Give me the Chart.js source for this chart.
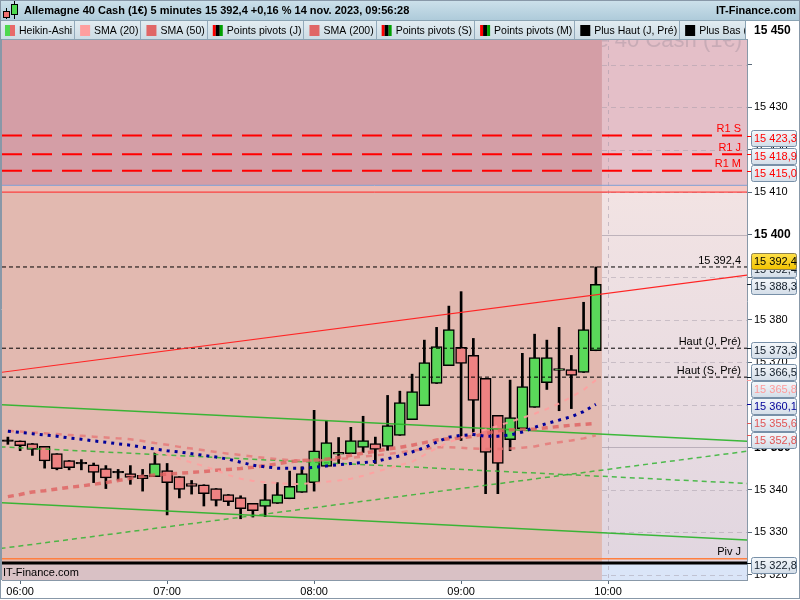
<!DOCTYPE html>
<html>
<head>
<meta charset="utf-8">
<script src="https://cdn.jsdelivr.net/npm/chart.js@4.4.0/dist/chart.umd.min.js"></script>
<style>
  html, body { margin: 0; padding: 0; background: #fff; }
  #wrap { width: 800px; height: 600px; }
</style>
</head>
<body>
<div id="wrap"><canvas id="chart" width="800" height="600"></canvas></div>
<script>
// candle times (5 minutes)
const times = ['05:55','06:00','06:05','06:10','06:15','06:20','06:25','06:30','06:35','06:40','06:45','06:50','06:55',
  '07:00','07:05','07:10','07:15','07:20','07:25','07:30','07:35','07:40','07:45','07:50','07:55',
  '08:00','08:05','08:10','08:15','08:20','08:25','08:30','08:35','08:40','08:45','08:50','08:55',
  '09:00','09:05','09:10','09:15','09:20','09:25','09:30','09:35','09:40','09:45','09:50','09:55'];

// Heikin-Ashi candles
const haOpen = [15351.4,15351.5,15350.9,15350.2,15348.5,15346.9,15346.1,15345.9,15345.0,15344.0,15343.8,15343.4,15343.1,
  15344.5,15343.1,15341.5,15341.2,15340.3,15338.9,15338.2,15336.8,15336.1,15336.8,15337.9,15339.4,
  15341.7,15345.5,15348.4,15348.5,15350.0,15350.9,15350.2,15352.8,15356.5,15359.8,15365.0,15369.2,
  15373.5,15371.6,15366.2,15357.5,15351.8,15354.4,15359.4,15365.2,15368.1,15368.3,15367.6,15372.7];
const haHigh = [15352.4,15351.5,15350.9,15350.2,15348.5,15346.9,15347.1,15346.3,15345.7,15344.8,15345.7,15344.8,15348.7,
  15346.2,15343.1,15342.2,15341.2,15340.3,15338.9,15338.6,15336.8,15341.3,15341.7,15344.4,15345.4,
  15358.7,15356.2,15352.3,15354.7,15357.3,15352.4,15362.2,15363.2,15367.2,15375.2,15378.2,15383.2,
  15386.6,15375.6,15366.2,15357.5,15365.8,15372.1,15376.6,15375.2,15378.2,15371.6,15384.1,15392.4];
const haLow = [15350.7,15349.2,15348.1,15345.1,15344.7,15344.7,15344.7,15341.7,15340.3,15342.3,15341.3,15339.7,15343.1,
  15334.1,15338.1,15339.0,15336.2,15336.2,15336.3,15333.2,15333.6,15333.7,15336.8,15337.9,15339.4,
  15339.7,15345.5,15346.2,15348.5,15348.8,15346.2,15349.3,15352.8,15356.5,15359.8,15365.0,15369.2,
  15351.6,15352.8,15339.1,15339.1,15349.2,15354.4,15359.4,15363.6,15358.6,15359.1,15367.6,15372.7];
const haClose = [15351.4,15350.4,15349.5,15346.8,15345.0,15345.2,15346.1,15344.1,15342.8,15344.0,15342.9,15342.6,15346.2,
  15341.7,15340.1,15340.8,15339.1,15337.5,15337.2,15335.6,15335.1,15337.7,15338.9,15340.8,15343.8,
  15349.2,15351.1,15348.8,15351.6,15351.6,15349.5,15355.1,15360.5,15363.1,15369.9,15373.7,15377.7,
  15369.7,15361.0,15348.8,15346.2,15357.0,15364.3,15371.1,15371.1,15368.5,15366.9,15377.7,15388.3];

// moving averages
const sma20 = [null,null,null,null,null,null,null,null,null,null,null,null,
  15348.9,15348.3,15347.3,15346.4,15345.6,15344.6,15343.5,15342.6,15342.1,15341.8,15341.6,15341.4,15341.4,
  15341.6,15341.9,15342.2,15342.6,15343.3,15344.2,15345.0,15345.8,15346.6,15348.2,15349.8,15351.2,
  15352.3,15353.3,15354.2,15355.0,15356.0,15356.9,15357.9,15359.0,15360.3,15361.8,15363.5,15365.8];
const sma50 = [15338.4,15338.9,15339.5,15339.8,15340.2,15340.6,15340.9,15341.3,15341.7,15342.2,15342.7,15343.2,15343.5,
  15343.7,15343.9,15344.1,15344.3,15344.6,15344.8,15345.0,15345.3,15345.7,15346.1,15346.6,15346.9,
  15347.0,15347.2,15347.6,15348.1,15348.6,15349.1,15349.6,15350.0,15350.5,15351.1,15351.7,15352.0,
  15352.2,15352.6,15353.2,15353.9,15354.1,15354.2,15354.3,15354.6,15354.9,15355.2,15355.4,15355.6];
const sma200 = [15353.9,15353.7,15353.5,15353.3,15353.1,15352.9,15352.7,15352.5,15352.3,15352.1,15351.9,15351.5,15351.0,
  15350.6,15350.1,15349.7,15349.3,15348.9,15348.5,15348.2,15347.8,15347.5,15347.2,15347.0,15346.9,
  15346.9,15347.0,15347.2,15347.5,15347.8,15348.1,15348.4,15348.8,15349.2,15349.6,15350.0,15350.0,
  15349.9,15349.7,15349.6,15349.6,15349.7,15349.9,15350.2,15350.8,15351.2,15351.6,15352.1,15352.8];
const blueMa = [15353.8,15353.5,15353.2,15352.9,15352.6,15352.2,15351.9,15351.5,15351.2,15350.8,15350.5,15350.0,15349.6,
  15349.2,15348.9,15348.5,15348.1,15347.7,15347.2,15346.5,15345.8,15345.4,15345.1,15345.1,15345.1,
  15345.3,15345.6,15345.9,15346.2,15346.4,15346.7,15347.3,15348.0,15348.9,15349.9,15351.2,15352.4,
  15352.8,15353.0,15352.6,15352.6,15352.9,15353.6,15354.7,15355.6,15356.4,15357.2,15358.4,15360.1];

// trend lines (start, end)
const trendTimes = ['05:52', '10:57'];
const trendRed = [15367.6, 15390.5];
const trendGreenHigh = [15360.0, 15351.4];
const trendGreenLow = [15337.0, 15328.2];
const trendGreenDashUp = [15326.2, 15349.1];
const trendGreenDashDown = [15350.1, 15341.5];

// horizontal levels
const pivotNames = ['R1 S', 'R1 J', 'R1 M'];
const pivotValues = [15423.3, 15418.9, 15415.0];
const lastPrice = 15392.4;
const highNames = ['Haut (J, Pré)', 'Haut (S, Pré)'];
const highValues = [15373.3, 15366.5];
const pivJ = 15323.8;
const lowDay = 15322.8;
const zoneEdge = 15411.6;
const redLevel = 15410.0;

// axes
const yTicks = [15320,15330,15340,15350,15360,15370,15380,15390,15400,15410,15420,15430,15440,15450];
const yHiddenLabels = [15440];
const xTickLabels = ['06:00', '07:00', '08:00', '09:00', '10:00'];

// right axis value tags
const tagValues = [15423.3, 15418.9, 15415.0, 15388.3, 15373.3, 15366.5, 15365.8, 15360.1, 15355.6, 15352.8, 15322.8];
const tagColors = ['#ff0000','#ff0000','#ff0000','#111c28','#111c28','#111c28','#ff9a9a','#000099','#e05555','#e05555','#111c28'];

const legendItems = ['Heikin-Ashi', 'SMA (20)', 'SMA (50)', 'Points pivots (J)', 'SMA (200)',
  'Points pivots (S)', 'Points pivots (M)', 'Plus Haut (J, Pré)', 'Plus Bas (J, Pré)'];
const legendIcons = ['ha', '#ff9f9f', '#e06666', 'piv', '#e06666', 'piv', 'piv', '#000', '#000'];
const title = 'Allemagne 40 Cash (1€) 5 minutes 15 392,4 +0,16 % 14 nov. 2023, 09:56:28';

const FONT = "'Liberation Sans', Arial, sans-serif";
Chart.defaults.font.family = FONT;
Chart.defaults.font.size = 11;

const toMin = t => { const p = t.split(':').map(Number); return p[0] * 60 + p[1]; };
const fmtTime = m => String(Math.floor(m / 60)).padStart(2, '0') + ':' + String(Math.round(m % 60)).padStart(2, '0');
const fmtNum = (v, d) => {
  const s = v.toFixed(d).split('.');
  const int = s[0].replace(/\B(?=(\d{3})+(?!\d))/g, ' ');
  return d ? int + ',' + s[1] : int;
};

const X_MIN = 352.6, X_MAX = 656.7;
const candleX = times.map(toMin);
const FUTURE_START = candleX[candleX.length - 1] + 2.5;

const bodyColors = haOpen.map((o, i) => haClose[i] > o ? '#5ad85a' : (haClose[i] < o ? '#ee8282' : '#000'));

const series = vals => vals.map((v, i) => ({ x: candleX[i], y: v }));
const trend = vals => vals.map((v, i) => ({ x: toMin(trendTimes[i]), y: v }));
const level = v => [{ x: X_MIN, y: v }, { x: X_MAX, y: v }];
const line = (data, color, width, dash, order) => ({
  type: 'line', data, borderColor: color, borderWidth: width, borderDash: dash || [],
  borderCapStyle: 'butt', pointRadius: 0, tension: 0, order
});

const datasets = [
  { type: 'bar', data: candleX.map((x, i) => ({ x, y: [haLow[i], haHigh[i]] })),
    backgroundColor: '#000', borderWidth: 0, barThickness: 2, grouped: false, order: 30 },
  { type: 'bar', data: candleX.map((x, i) => ({ x, y: [haOpen[i], haClose[i]] })),
    backgroundColor: bodyColors, borderColor: '#000', borderWidth: 1.5, borderSkipped: false,
    barThickness: 11, minBarLength: 1.5, grouped: false, order: 29 },
  line(level(zoneEdge), '#7f9dd2', 1, null, 12),
  line(level(redLevel), '#ff2020', 1, null, 12),
  ...pivotValues.map(v => line(level(v), '#ff0000', 2, [20, 10], 11)),
  line(level(lastPrice), '#000', 1, [4, 3], 11),
  ...highValues.map(v => line(level(v), '#000', 1, [4, 3], 11)),
  line(level(pivJ), '#ff7f3f', 1.5, null, 11),
  line(level(lowDay), '#000', 3, null, 11),
  line(trend(trendRed), '#ff2424', 1.2, null, 8),
  line(trend(trendGreenHigh), 'rgba(40,180,40,0.9)', 1.5, null, 8),
  line(trend(trendGreenLow), 'rgba(40,180,40,0.9)', 1.5, null, 8),
  line(trend(trendGreenDashUp), 'rgba(50,180,50,0.85)', 1.5, [5, 4], 8),
  line(trend(trendGreenDashDown), 'rgba(50,180,50,0.85)', 1.5, [5, 4], 8),
  line(series(sma50), 'rgba(224,96,96,0.8)', 3.5, [6, 5], 5),
  line(series(sma200), 'rgba(230,115,115,0.75)', 2.5, [6, 6], 4),
  line(series(sma20), 'rgba(255,160,160,0.9)', 2, [5, 6], 3),
  line(series(blueMa), '#000099', 3, [3, 5], 2)
];

const bgPlugin = {
  id: 'bg',
  beforeDraw(chart) {
    const { ctx, chartArea: a, scales: { x, y } } = chart;
    const fx = x.getPixelForValue(FUTURE_START);
    const yEdge = y.getPixelForValue(zoneEdge);
    const yRed = y.getPixelForValue(redLevel);
    const yLow = y.getPixelForValue(lowDay);
    ctx.save();
    ctx.fillStyle = '#fff';
    ctx.fillRect(0, 0, chart.width, chart.height);
    const fill = (c, x0, y0, x1, y1) => { ctx.fillStyle = c; ctx.fillRect(x0, y0, x1 - x0, y1 - y0); };
    fill('#d49ea6', a.left, a.top, fx, yEdge);
    fill('#e4bfc8', fx, a.top, a.right, yEdge);
    fill('#ecbcb4', a.left, yEdge, fx, yRed);
    fill('#f5c9c4', fx, yEdge, a.right, yRed);
    fill('#e2b9b0', a.left, yRed, fx, yLow);
    const g = ctx.createLinearGradient(0, yRed, 0, yLow);
    g.addColorStop(0, '#f2e3e3');
    g.addColorStop(1, '#e1d6e0');
    fill(g, fx, yRed, a.right, yLow);
    fill('#d9c1c5', a.left, yLow, fx, a.bottom);
    fill('#dae5f8', fx, yLow, a.right, a.bottom);

    // watermark, only visible in the empty zone
    ctx.beginPath();
    ctx.rect(fx, a.top, a.right - fx, a.bottom - a.top);
    ctx.clip();
    ctx.font = '22px ' + FONT;
    ctx.fillStyle = 'rgba(150,135,150,0.35)';
    ctx.textAlign = 'right';
    ctx.textBaseline = 'alphabetic';
    ctx.fillText('Allemagne 40 Cash (1€)', a.right - 5, 47);

    // grid in the empty zone
    ctx.lineWidth = 1;
    yTicks.forEach(v => {
      const py = Math.round(y.getPixelForValue(v)) + 0.5;
      ctx.setLineDash(v % 50 === 0 ? [] : [5, 4]);
      ctx.strokeStyle = v % 50 === 0 ? 'rgba(150,140,155,0.55)' : 'rgba(160,150,165,0.45)';
      ctx.beginPath(); ctx.moveTo(fx, py); ctx.lineTo(a.right, py); ctx.stroke();
    });
    xTickLabels.forEach(t => {
      const px = Math.round(x.getPixelForValue(toMin(t))) + 0.5;
      if (px < fx) return;
      ctx.setLineDash([4, 4]);
      ctx.strokeStyle = 'rgba(160,150,165,0.5)';
      ctx.beginPath(); ctx.moveTo(px, a.top); ctx.lineTo(px, a.bottom); ctx.stroke();
    });
    ctx.restore();
  },
  afterDatasetsDraw(chart) {
    const { ctx, chartArea: a, scales: { y } } = chart;
    ctx.save();
    ctx.font = '11px ' + FONT;
    ctx.textAlign = 'right';
    ctx.textBaseline = 'bottom';
    const label = (txt, v, c) => { ctx.fillStyle = c; ctx.fillText(txt, a.right - 6, y.getPixelForValue(v) - 1); };
    pivotNames.forEach((n, i) => label(n, pivotValues[i], '#ff0000'));
    label(fmtNum(lastPrice, 1), lastPrice, '#000');
    highNames.forEach((n, i) => label(n, highValues[i], '#000'));
    label('Piv J', pivJ, '#000');
    ctx.textAlign = 'left';
    ctx.textBaseline = 'middle';
    ctx.fillStyle = '#000';
    ctx.fillText('IT-Finance.com', a.left + 1, a.bottom - 7);
    ctx.restore();
  }
};

function drawTag(ctx, cy, text, color, yellow) {
  const x0 = 751.5, w = 45, h = 16;
  const top = Math.round(cy - h / 2) + 0.5;
  const g = ctx.createLinearGradient(0, top, 0, top + h);
  if (yellow) { g.addColorStop(0, '#ffe14a'); g.addColorStop(1, '#f2c200'); }
  else { g.addColorStop(0, '#f5f8fb'); g.addColorStop(1, '#d3dde8'); }
  ctx.fillStyle = g;
  ctx.strokeStyle = yellow ? '#8c8050' : '#7890a8';
  ctx.lineWidth = 1;
  ctx.beginPath();
  ctx.roundRect(x0, top, w, h, 2);
  ctx.fill();
  ctx.stroke();
  ctx.fillStyle = color;
  ctx.font = '11px ' + FONT;
  ctx.textAlign = 'left';
  ctx.textBaseline = 'middle';
  ctx.fillText(text, x0 + 2.5, top + h / 2 + 0.5);
}

const overlayPlugin = {
  id: 'overlay',
  afterDraw(chart) {
    const { ctx, chartArea: a, scales: { y } } = chart;
    ctx.save();

    // title bar
    let g = ctx.createLinearGradient(0, 0, 0, 20);
    g.addColorStop(0, '#cde1eb');
    g.addColorStop(1, '#aecbda');
    ctx.fillStyle = g;
    ctx.fillRect(0, 0, 800, 20);
    ctx.fillStyle = '#8aa3b3';
    ctx.fillRect(0, 20, 800, 1);
    // icon
    ctx.fillStyle = '#000';
    ctx.fillRect(6, 8, 1, 11); ctx.fillRect(14, 1, 1, 18);
    ctx.fillStyle = '#ee7070'; ctx.fillRect(3.5, 11.5, 6, 6); ctx.strokeStyle = '#000'; ctx.strokeRect(3.5, 11.5, 6, 6);
    ctx.fillStyle = '#4ed84e'; ctx.fillRect(11.5, 4.5, 6, 10); ctx.strokeRect(11.5, 4.5, 6, 10);
    ctx.fillStyle = '#000';
    ctx.font = 'bold 11px ' + FONT;
    ctx.textBaseline = 'middle';
    ctx.textAlign = 'left';
    ctx.fillText(title, 24, 11);
    ctx.textAlign = 'right';
    ctx.fillText('IT-Finance.com', 796, 11);

    // legend row
    g = ctx.createLinearGradient(0, 21, 0, 39);
    g.addColorStop(0, '#e2ecf1');
    g.addColorStop(1, '#ccdce5');
    ctx.fillStyle = g;
    ctx.fillRect(0, 21, a.right - 2, 18);
    ctx.fillStyle = '#fff';
    ctx.fillRect(a.right - 2, 21, 800 - a.right + 2, 18);
    ctx.beginPath();
    ctx.rect(0, 21, a.right - 2, 18);
    ctx.clip();
    ctx.font = '10.5px ' + FONT;
    ctx.textAlign = 'left';
    let lx = 0;
    legendItems.forEach((txt, i) => {
      const ic = legendIcons[i];
      const ix = lx + 5, iy = 25;
      if (ic === 'ha') {
        ctx.fillStyle = '#4fd84f'; ctx.fillRect(ix, iy, 5, 11);
        ctx.fillStyle = '#e86a6a'; ctx.fillRect(ix + 5, iy, 5, 11);
      } else if (ic === 'piv') {
        ctx.fillStyle = '#ff0000'; ctx.fillRect(ix, iy, 3, 11);
        ctx.fillStyle = '#000'; ctx.fillRect(ix + 3, iy, 4, 11);
        ctx.fillStyle = '#00a000'; ctx.fillRect(ix + 7, iy, 3, 11);
      } else {
        ctx.fillStyle = ic; ctx.fillRect(ix, iy, 10, 11);
      }
      ctx.fillStyle = '#000';
      ctx.fillText(txt, lx + 19, 31);
      lx += 19 + ctx.measureText(txt).width + 2;
      ctx.fillStyle = '#93aabb';
      ctx.fillRect(Math.round(lx), 21, 1, 18);
      lx += 1;
    });
    ctx.restore();
    ctx.save();
    ctx.fillStyle = '#8aa3b3';
    ctx.fillRect(0, 39, a.right, 1);
    ctx.fillRect(a.right - 2, 21, 1, 19);

    // top tick label kept inside the axis column
    ctx.fillStyle = '#000';
    ctx.font = 'bold 12px ' + FONT;
    ctx.textAlign = 'left';
    ctx.textBaseline = 'middle';
    ctx.fillText(fmtNum(yTicks[yTicks.length - 1], 0), a.right + 7, y.getPixelForValue(yTicks[yTicks.length - 1]) + 9);

    // value tags on the right axis
    const items = tagValues.map((v, i) => ({ v, p: y.getPixelForValue(v) + 2, c: tagColors[i] }));
    items.sort((p, q) => p.p - q.p);
    for (let it = 0; it < 60; it++) {
      for (let i = 1; i < items.length; i++) {
        const d = items[i].p - items[i - 1].p;
        if (d < 16.5) { const s = (16.5 - d) / 2; items[i].p += s; items[i - 1].p -= s; }
      }
    }
    const lp = y.getPixelForValue(lastPrice);
    drawTag(ctx, lp + 2, fmtNum(lastPrice, 1), '#111c28', false);
    items.forEach(it => {
      ctx.fillStyle = it.c;
      ctx.fillRect(a.right, Math.round(y.getPixelForValue(it.v)), 4, 1);
      drawTag(ctx, it.p, fmtNum(it.v, 1), it.c, false);
    });
    drawTag(ctx, lp - 6, fmtNum(lastPrice, 1), '#000', true);

    // frame
    ctx.strokeStyle = '#8898a8';
    ctx.lineWidth = 1;
    ctx.strokeRect(0.5, 0.5, 799, 598);
    ctx.beginPath();
    ctx.moveTo(a.left - 0.5, 39); ctx.lineTo(a.left - 0.5, a.bottom);
    ctx.stroke();
    ctx.restore();
  }
};

new Chart(document.getElementById('chart'), {
  type: 'bar',
  data: { datasets },
  options: {
    responsive: false,
    animation: false,
    layout: { padding: { left: 2, top: 22, right: 0, bottom: 0 } },
    plugins: { legend: { display: false }, tooltip: { enabled: false } },
    scales: {
      x: {
        type: 'linear', min: X_MIN, max: X_MAX, offset: false,
        afterBuildTicks: s => { s.ticks = xTickLabels.map(t => ({ value: toMin(t) })); },
        afterFit: s => { s.height = 20; },
        grid: { drawOnChartArea: false, offset: false, tickLength: 4, color: '#5a6a7a' },
        border: { color: '#8898a8' },
        ticks: { callback: v => fmtTime(v), color: '#000', font: { size: 11 }, padding: 1, maxRotation: 0, autoSkip: false }
      },
      y: {
        position: 'right', min: 15318.8, max: 15450,
        afterBuildTicks: s => { s.ticks = yTicks.map(v => ({ value: v })); },
        afterFit: s => { s.width = 53; },
        grid: { drawOnChartArea: false, tickLength: 5, color: '#5a6a7a' },
        border: { color: '#8898a8' },
        ticks: {
          color: '#000', padding: 2, autoSkip: false,
          callback: v => (v === yTicks[yTicks.length - 1] || yHiddenLabels.includes(v)) ? '' : fmtNum(v, 0),
          font: c => ({ size: c.tick && c.tick.value % 50 === 0 ? 12 : 11, weight: c.tick && c.tick.value % 50 === 0 ? 'bold' : 'normal' })
        }
      }
    }
  },
  plugins: [bgPlugin, overlayPlugin]
});
</script>
</body>
</html>
